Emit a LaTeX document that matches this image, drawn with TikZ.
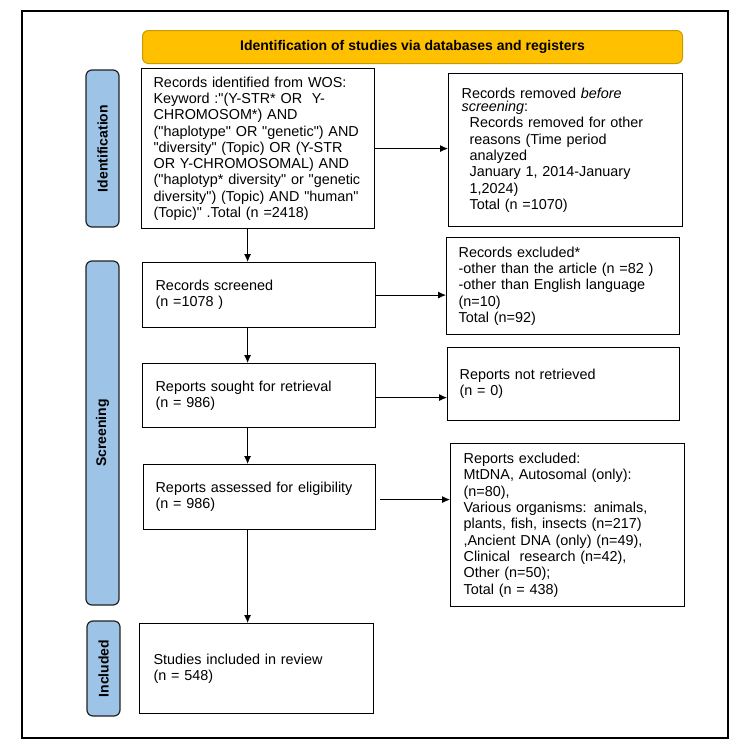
\documentclass[tikz,border=0pt]{standalone}
\usepackage{fontspec}
\setmainfont{Liberation Sans}[Ligatures=TeXOff]
\usetikzlibrary{arrows.meta}
\definecolor{bannerfill}{HTML}{FFC000}
\definecolor{bannerdraw}{HTML}{C99A00}
\definecolor{sidefill}{HTML}{9DC3E6}
\definecolor{sidedraw}{HTML}{222222}
\tikzset{
  flowbox/.style={draw=black, line width=1.2pt, fill=white, anchor=north west,
    align=left, inner xsep=12pt, inner ysep=0pt,
    font=\fontsize{14.4}{16.3}\selectfont},
  sidelabel/.style={draw=sidedraw, fill=sidefill, line width=1.2pt, rounded corners=6pt,
    rotate=90, inner sep=0pt, font=\fontsize{14}{16}\selectfont\bfseries},
  banner/.style={draw=bannerdraw, fill=bannerfill, line width=1pt, rounded corners=6pt,
    anchor=north west, inner sep=0pt, font=\fontsize{14}{16}\selectfont\bfseries},
  arr/.style={draw=black, line width=0.9pt, -{Latex[length=8pt,width=7pt]}}
}
\begin{document}
\begin{tikzpicture}[x=1pt,y=-1pt]
\useasboundingbox (0,0) rectangle (750,750);
\fill[white] (0,0) rectangle (750,750);
\draw[line width=1.5pt] (22,11) rectangle (728,738);

\node[banner, minimum width=540pt, minimum height=33pt] (banner) at (142,30)
  {Identification of studies via databases and registers};

\node[sidelabel, minimum width=157pt, minimum height=33pt] (sideid) at (102.5,148.5) {Identification};
\node[sidelabel, minimum width=344pt, minimum height=33pt] (sidescr) at (102.5,433) {Screening};
\node[sidelabel, minimum width=95pt, minimum height=33pt] (sideinc) at (103.5,668.5) {Included};

\node[flowbox, text width=209pt, minimum width=233pt, minimum height=160pt] (wos) at (141,68)
  {\mbox{Records identified from WOS:}\\
   \mbox{Keyword :"(Y-STR* OR\ \ Y-}\\
   CHROMOSOM*) AND\\
   \mbox{("haplotype" OR "genetic") AND}\\
   \mbox{"diversity" (Topic) OR (Y-STR}\\
   \mbox{OR Y-CHROMOSOMAL) AND}\\
   \mbox{("haplotyp* diversity" or "genetic}\\
   \mbox{diversity") (Topic) AND "human"}\\
   \mbox{(Topic)" .Total (n =2418)}};

\node[flowbox, inner xsep=13pt, text width=208pt, minimum width=234pt, minimum height=153pt] (removed) at (448,73)
  {Records removed \textit{before}\\[-3pt]
   \textit{screening}:\\
   \hspace*{8pt}Records removed for other\\
   \hspace*{8pt}reasons (Time period\\
   \hspace*{8pt}analyzed\\
   \hspace*{8pt}January 1, 2014-January\\
   \hspace*{8pt}1,2024)\\
   \hspace*{8pt}Total (n =1070)};

\node[flowbox, inner xsep=13pt, text width=207pt, minimum width=233pt, minimum height=65pt] (screened) at (142,262)
  {Records screened\\(n =1078 )};

\node[flowbox, text width=209pt, minimum width=233pt, minimum height=97pt] (excluded) at (446,237)
  {Records excluded*\\
   \mbox{-other than the article (n =82 )}\\
   \mbox{-other than English language}\\
   (n=10)\\
   Total (n=92)};

\node[flowbox, inner xsep=13pt, text width=207pt, minimum width=233pt, minimum height=64pt] (sought) at (142,363)
  {Reports sought for retrieval\\(n = 986)};

\node[flowbox, text width=208pt, minimum width=232pt, minimum height=73pt] (notret) at (447,347)
  {Reports not retrieved\\(n = 0)};

\node[flowbox, inner xsep=12pt, text width=208pt, minimum width=232pt, minimum height=65pt] (elig) at (143,464)
  {\mbox{Reports assessed for eligibility}\\(n = 986)};

\node[flowbox, inner xsep=13pt, text width=208pt, minimum width=234pt, minimum height=163pt] (repexcl) at (450,443)
  {Reports excluded:\\
   MtDNA, Autosomal (only):\\
   (n=80),\\
   \mbox{Various organisms: animals,}\\
   \mbox{plants, fish, insects (n=217)}\\
   \mbox{,Ancient DNA (only) (n=49),}\\
   Clinical\ \ research (n=42),\\
   Other (n=50);\\
   Total (n = 438)};

\node[flowbox, inner xsep=14pt, text width=206pt, minimum width=234pt, minimum height=90pt] (included) at (139,623)
  {Studies included in review\\(n = 548)};

% connectors
\draw[arr] (wos.east) -- (wos.east -| removed.west);
\draw[arr] ([xshift=-10.5pt]wos.south) -- ([xshift=-10.5pt]wos.south |- screened.north);
\draw[arr] (screened.east) -- (screened.east -| excluded.west);
\draw[arr] ([xshift=-11.5pt]screened.south) -- ([xshift=-11.5pt]screened.south |- sought.north);
\draw[arr] ([yshift=-2pt]sought.east) -- ([yshift=-2pt]sought.east -| notret.west);
\draw[arr] ([xshift=-11.5pt]sought.south) -- ([xshift=-11.5pt]sought.south |- elig.north);
\draw[arr] ([xshift=4pt,yshift=-2.5pt]elig.east) -- ([yshift=-2.5pt]elig.east -| repexcl.west);
\draw[arr] ([xshift=-12pt]elig.south) -- ([xshift=-12pt]elig.south |- included.north);
\end{tikzpicture}
\end{document}
